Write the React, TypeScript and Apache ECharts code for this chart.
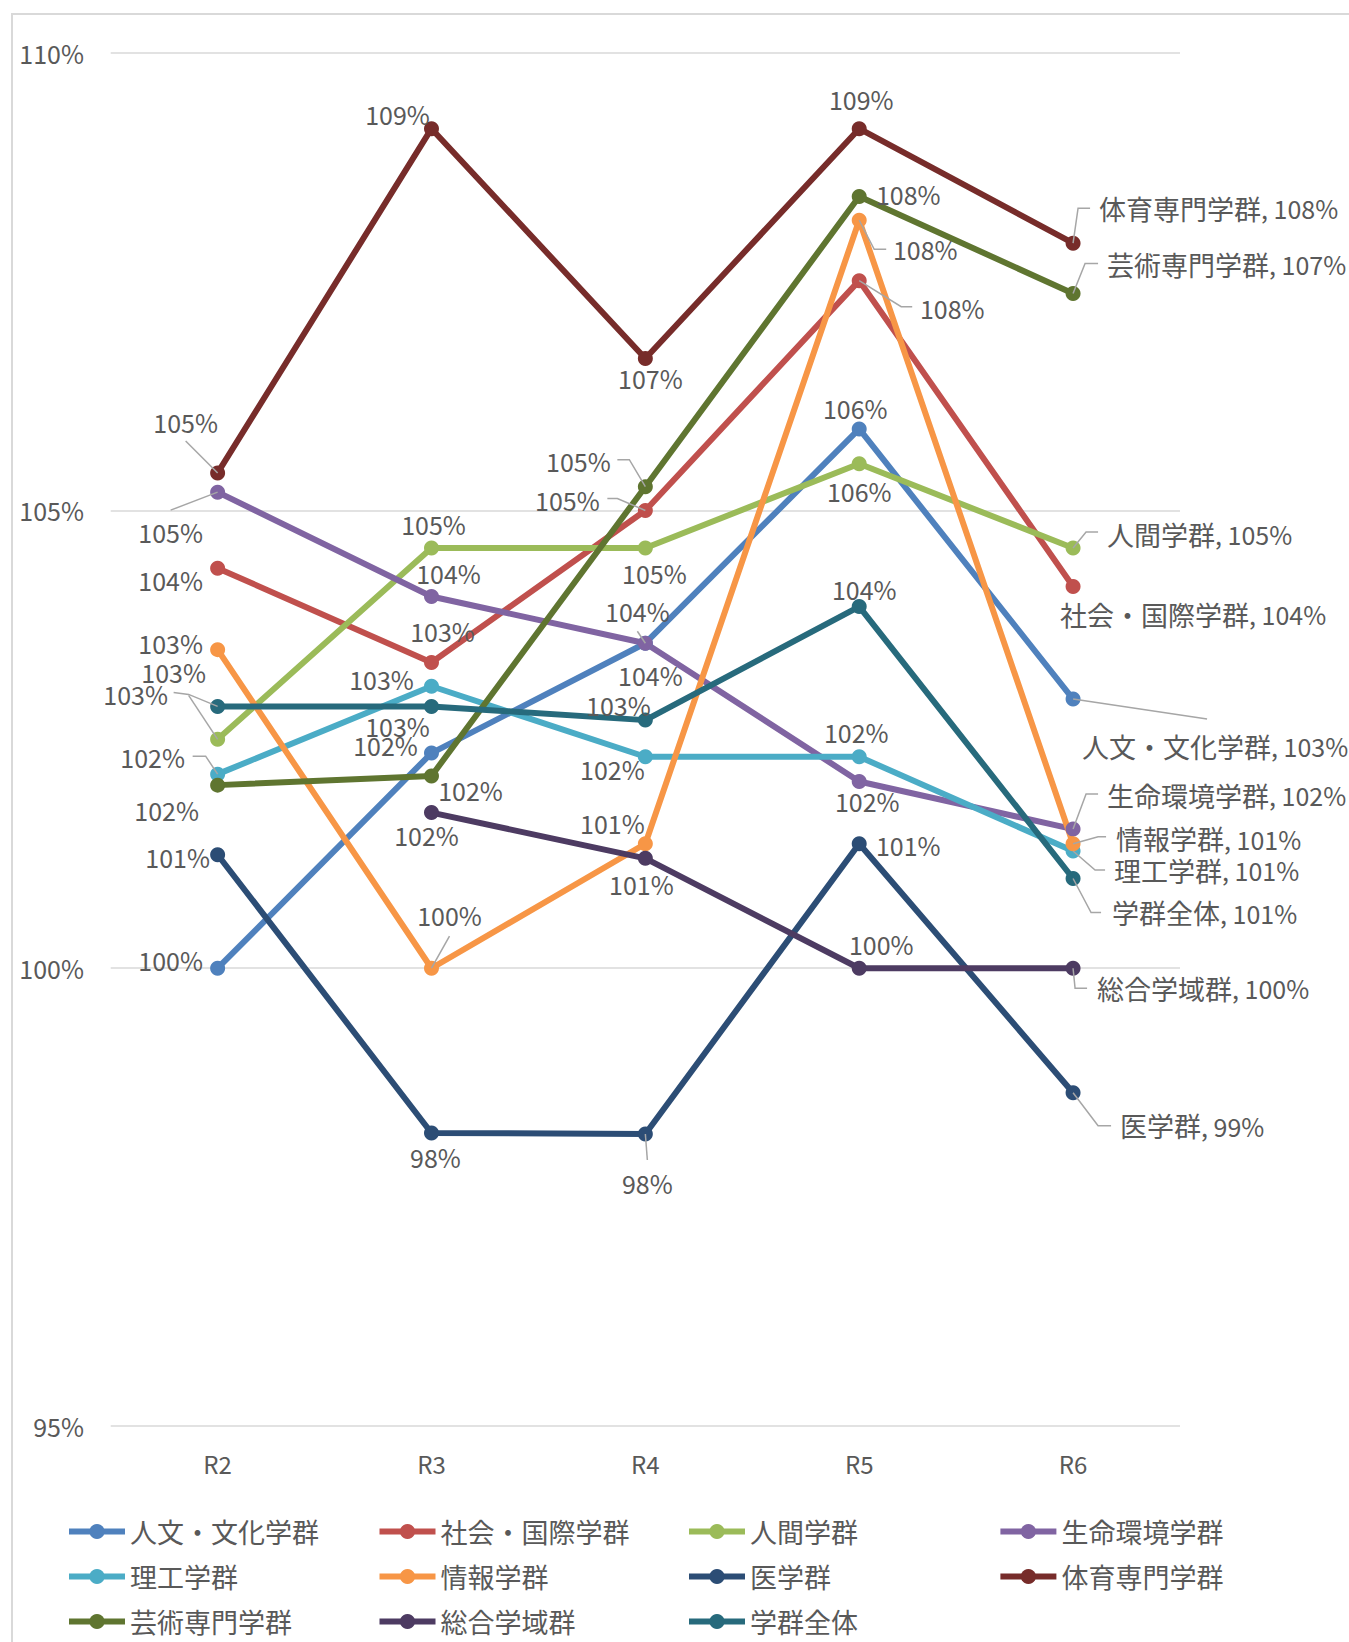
import React, { useEffect, useRef } from 'react';
import * as echarts from 'echarts';

const categories = ['R2', 'R3', 'R4', 'R5', 'R6'];

const names = [
  '人文・文化学群', '社会・国際学群', '人間学群', '生命環境学群',
  '理工学群', '情報学群', '医学群', '体育専門学群',
  '芸術専門学群', '総合学域群', '学群全体',
];

const jinbun = [100.0, 102.35, 103.55, 105.89, 102.94];
const shakai = [104.37, 103.34, 105.0, 107.51, 104.17];
const ningen = [102.5, 104.59, 104.59, 105.51, 104.59];
const seimei = [105.2, 104.06, 103.55, 102.04, 101.52];
const riko = [102.12, 103.08, 102.31, 102.31, 101.28];
const joho = [103.48, 100.0, 101.36, 108.17, 101.36];
const igaku = [101.24, 98.2, 98.19, 101.36, 98.64];
const taiiku = [105.41, 109.17, 106.66, 109.17, 107.92];
const geijutsu = [102.0, 102.1, 105.26, 108.43, 107.37];
const sogo = [null, 101.7, 101.2, 100.0, 100.0];
const zentai = [102.86, 102.86, 102.71, 103.95, 100.98];

const values = [jinbun, shakai, ningen, seimei, riko, joho, igaku, taiiku, geijutsu, sogo, zentai];

const colors = [
  '#4F81BD', '#C0504D', '#9BBB59', '#8064A2', '#4BACC6', '#F79646',
  '#2C4D75', '#772C2A', '#5F7530', '#4D3B62', '#276A7C',
];

// label offsets (px) relative to each point, R2..R5
const labelOffsets = [
  [[-47, -8], [-46, -8], [-8, -32], [-4, -21]],
  [[-47, 12], [11, -31], [-78, -10], [93, 27]],
  [[-44, -67], [2, -24], [9, 25], [0, 27]],
  [[-47, 40], [17, -24], [5, 32], [8, 20]],
  [[-65, -17], [-50, -7], [-33, 12], [-3, -25]],
  [[-47, -7], [18, -53], [-33, -21], [66, 29]],
  [[-40, 2], [4, 24], [2, 49], [49, 1]],
  [[-32, -51], [-34, -15], [5, 20], [2, -30]],
  [[-51, 25], [39, 14], [-67, -26], [49, -2]],
  [[0, 0], [-5, 22], [-4, 26], [22, -24]],
  [[-82, -12], [-34, 20], [-27, -15], [5, -18]],
];

// R6 end-label offsets: [left edge dx, centre dy]
const endOffsets = [
  [9, 47], [-13, 28], [34, -14], [34, -34], [41, 19], [43, -5],
  [47, 33], [26, -35], [34, -29], [24, 20], [39, 34],
];

// leader lines: series index, category index, polyline offsets from the point
const leaders = [
  { s: 7, i: 0, pts: [[0, 0], [-32, -32]] },
  { s: 7, i: 4, pts: [[0, 0], [5, -35], [17, -35]] },
  { s: 8, i: 2, pts: [[0, 0], [-16, -27], [-28, -27]] },
  { s: 8, i: 4, pts: [[0, 0], [12, -30], [25, -30]] },
  { s: 5, i: 1, pts: [[0, 0], [18, -32]] },
  { s: 5, i: 3, pts: [[0, 0], [15, 29], [27, 29]] },
  { s: 5, i: 4, pts: [[0, 0], [25, -7], [33, -7]] },
  { s: 1, i: 2, pts: [[0, 0], [-28, -12], [-38, -12]] },
  { s: 1, i: 3, pts: [[0, 0], [42, 26], [53, 26]] },
  { s: 0, i: 2, pts: [[0, 0], [-8, -12]] },
  { s: 0, i: 4, pts: [[0, 0], [134, 20]] },
  { s: 2, i: 0, pts: [[0, 0], [-29, -44]] },
  { s: 10, i: 0, pts: [[0, 0], [-29, -12], [-44, -14]] },
  { s: 2, i: 4, pts: [[0, 0], [13, -16], [25, -16]] },
  { s: 3, i: 0, pts: [[0, 0], [-47, 18]] },
  { s: 3, i: 4, pts: [[0, 0], [13, -35], [25, -35]] },
  { s: 4, i: 0, pts: [[0, 0], [-12, -18], [-25, -18]] },
  { s: 4, i: 4, pts: [[0, 0], [22, 19], [32, 19]] },
  { s: 6, i: 2, pts: [[0, 0], [2, 26]] },
  { s: 6, i: 4, pts: [[0, 0], [25, 33], [38, 33]] },
  { s: 9, i: 4, pts: [[0, 0], [2, 20], [14, 20]] },
  { s: 10, i: 4, pts: [[0, 0], [18, 34], [28, 34]] },
];

const FONT = "'Noto Sans CJK JP', sans-serif";
const TEXT = '#595959';

const legendCols = [[0, 4, 8], [1, 5, 9], [2, 6, 10], [3, 7]];
const legendLefts = [66, 376.5, 686, 997.4];

export default function App() {
  const ref = useRef<HTMLDivElement>(null);
  useEffect(() => {
    if (!ref.current) return;
    const chart = echarts.init(ref.current, null, { renderer: 'svg' });
    const rich = {
      n: { fontSize: 27, color: TEXT, fontFamily: FONT },
      v: { fontSize: 25, color: TEXT, fontFamily: FONT },
    };
    const lineSeries = names.map((name, si) => ({
      type: 'line',
      name,
      z: 2,
      symbol: 'circle',
      symbolSize: 15,
      showAllSymbol: true,
      lineStyle: { width: 6, color: colors[si] },
      itemStyle: { color: colors[si] },
      emphasis: { disabled: true },
      label: {
        show: true,
        position: 'inside',
        color: TEXT,
        fontSize: 25,
        fontFamily: FONT,
        formatter: (p: any) => Math.round(p.value) + '%',
        rich,
      },
      data: values[si].map((v, i) => {
        if (v == null) return '-';
        if (i === 4) {
          return {
            value: v,
            label: {
              align: 'left',
              offset: endOffsets[si],
              formatter: `{n|${name}}{v|, ${Math.round(v)}%}`,
              rich,
            },
          };
        }
        return { value: v, label: { offset: labelOffsets[si][i] } };
      }),
    }));
    const leaderSeries = {
      type: 'custom',
      silent: true,
      z: 3,
      data: leaders.map((l, k) => [l.i, values[l.s][l.i], k]),
      renderItem: (params: any, api: any) => {
        const k = api.value(2);
        const p = api.coord([api.value(0), api.value(1)]);
        const pts = leaders[k].pts.map((d) => [p[0] + d[0], p[1] + d[1]]);
        return {
          type: 'polyline',
          shape: { points: pts },
          style: { stroke: '#A6A6A6', lineWidth: 1.5, fill: 'none' },
        };
      },
    };
    chart.setOption({
      animation: false,
      backgroundColor: '#ffffff',
      graphic: [
        {
          type: 'rect',
          silent: true,
          z: -10,
          shape: { x: 12, y: 14, width: 1400, height: 1700 },
          style: { fill: 'none', stroke: '#D9D9D9', lineWidth: 2 },
        },
      ],
      grid: { left: 110.7, right: 169, top: 52.7, bottom: 216 },
      legend: legendCols.map((c, k) => ({
        orient: 'vertical',
        left: legendLefts[k],
        top: 1518,
        padding: 0,
        itemWidth: 56,
        itemHeight: 19,
        itemGap: 18,
        selectedMode: false,
        lineStyle: { width: 6 },
        data: c.map((i) => names[i]),
        textStyle: { fontSize: 27, lineHeight: 27, color: TEXT, fontFamily: FONT },
      })),
      xAxis: {
        type: 'category',
        data: categories,
        boundaryGap: true,
        axisLine: { show: false },
        axisTick: { show: false },
        axisLabel: { color: TEXT, fontSize: 24, fontFamily: FONT, margin: 25 },
      },
      yAxis: {
        type: 'value',
        min: 95,
        max: 110,
        interval: 5,
        axisLine: { show: false },
        axisTick: { show: false },
        splitLine: { lineStyle: { color: '#D9D9D9', width: 1.5 } },
        axisLabel: { color: TEXT, fontSize: 25, fontFamily: FONT, margin: 26.7, formatter: '{value}%' },
      },
      series: [...lineSeries, leaderSeries],
    });
    return () => chart.dispose();
  }, []);
  return (
    <div
      ref={ref}
      style={{ position: 'absolute', left: 0, top: 0, width: 1349, height: 1642 }}
    />
  );
}
